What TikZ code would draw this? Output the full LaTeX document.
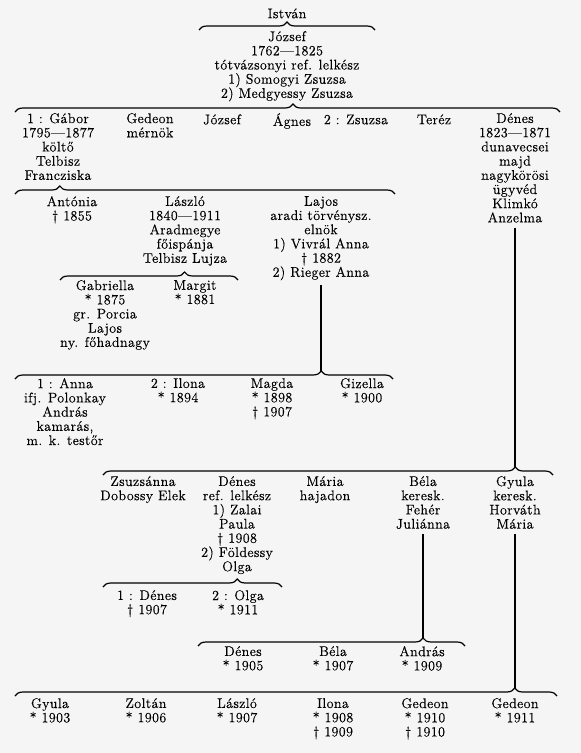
\documentclass[tikz,border=0pt]{standalone}
\usepackage{fontspec}
\setmainfont{Latin Modern Roman}[LetterSpace=3, FakeBold=0.4]
\usepackage{tikz}
\usepackage{xcolor}
\usetikzlibrary{decorations.pathreplacing}
\definecolor{paper}{RGB}{245,245,245}
\newcommand{\famfont}{\fontsize{14}{14.2}\selectfont}
\tikzset{
  person/.style = {
    align=center,
    anchor=north,
    inner sep=0pt,
    font=\famfont,
    execute at begin node={\rule{0pt}{11pt}}
  },
  sibs/.style = {
    decorate,
    decoration={brace, amplitude=8pt, aspect=#1},
    line width=1.2pt
  },
  sibs/.default = 0.5,
  stem/.style = {
    line width=1.5pt,
    shorten <=5pt
  }
}

\begin{document}
\begin{tikzpicture}[x=1pt, y=-1pt]
    \fill[paper] (0,0) rectangle (581,753);
    \useasboundingbox (0,0) rectangle (581,753);
    % top
    \node[person] (istvan) at (287,7) {István};
    \coordinate (istvanL) at (199,30);
    \coordinate (istvanR) at (375,30);
    \draw[sibs] (istvanL) -- (istvanR);
    \node[person] (jozsef) at (287,31) {József\\1762---1825\\tótvázsonyi ref. lelkész\\1) Somogyi Zsuzsa\\2) Medgyessy Zsuzsa};
    \coordinate (jozsefL) at (15,112);
    \coordinate (jozsefR) at (560,112);
    \draw[sibs=0.51] (jozsefL) -- (jozsefR);
    % children of József
    \node[person] (gabor) at (58,113) {1 : Gábor\\1795---1877\\költő\\Telbisz\\Francziska};
    \node[person] (gedeon) at (150,113) {Gedeon\\mérnök};
    \node[person] (jozsefii) at (222,113) {József};
    \node[person] (agnes) at (292,113) {Ágnes};
    \node[person] (zsuzsa) at (356,113) {2 : Zsuzsa};
    \node[person] (terez) at (434,113) {Teréz};
    \node[person] (denes) at (515,113) {Dénes\\1823---1871\\dunavecsei\\majd\\nagykörösi\\ügyvéd\\Klimkó\\Anzelma};
    \coordinate (gaborL) at (15,194);
    \coordinate (gaborR) at (395,194);
    \draw[sibs=0.118] (gaborL) -- (gaborR);
    % children of Gábor
    \node[person] (antonia) at (72,196) {Antónia\\\dag\ 1855};
    \node[person] (laszlo) at (185,196) {László\\1840---1911\\Aradmegye\\főispánja\\Telbisz Lujza};
    \node[person] (lajos) at (321,196) {Lajos\\aradi törvénysz.\\elnök\\1) Vivrál Anna\\\dag\ 1882\\2) Rieger Anna};
    \coordinate (laszloL) at (60,280);
    \coordinate (laszloR) at (238,280);
    \draw[sibs=0.70] (laszloL) -- (laszloR);
    \node[person] (gabriella) at (105,280) {Gabriella\\* 1875\\gr. Porcia\\Lajos\\ny. főhadnagy};
    \node[person] (margit) at (195,280) {Margit\\* 1881};
    % children of Lajos
    \coordinate (lajosL) at (15,379);
    \coordinate (lajosR) at (393,379);
    \coordinate (lajosTip) at (321,371);
    \draw[sibs=0.81] (lajosL) -- (lajosR);
    \draw[stem] (lajos.south) -- (lajosTip);
    \node[person] (anna) at (65,378) {1 : Anna\\ifj. Polonkay\\András\\kamarás,\\m. k. testőr};
    \node[person] (ilona) at (178,378) {2 : Ilona\\* 1894};
    \node[person] (magda) at (272,378) {Magda\\* 1898\\\dag\ 1907};
    \node[person] (gizella) at (362,378) {Gizella\\* 1900};
    % children of Dénes
    \coordinate (denesL) at (103,475);
    \coordinate (denesR) at (553,475);
    \coordinate (denesTip) at (515,467);
    \draw[sibs=0.916] (denesL) -- (denesR);
    \draw[stem] (denes.south) -- (denesTip);
    \node[person] (zsuzsanna) at (143,476) {Zsuzsánna\\Dobossy Elek};
    \node[person] (denesii) at (237,476) {Dénes\\ref. lelkész\\1) Zalai\\Paula\\\dag\ 1908\\2) Földessy\\Olga};
    \node[person] (maria) at (325,476) {Mária\\hajadon};
    \node[person] (bela) at (423,476) {Béla\\keresk.\\Fehér\\Juliánna};
    \node[person] (gyula) at (515,476) {Gyula\\keresk.\\Horváth\\Mária};
    % grandchildren
    \coordinate (denesiiL) at (103,587);
    \coordinate (denesiiR) at (282,587);
    \draw[sibs=0.75] (denesiiL) -- (denesiiR);
    \node[person] (denesiii) at (147,590) {1 : Dénes\\\dag\ 1907};
    \node[person] (olga) at (238,590) {2 : Olga\\* 1911};
    \coordinate (belaL) at (198,646);
    \coordinate (belaR) at (465,646);
    \coordinate (belaTip) at (423,638);
    \draw[sibs=0.843] (belaL) -- (belaR);
    \draw[stem] (bela.south) -- (belaTip);
    \node[person] (denesiv) at (243,646) {Dénes\\* 1905};
    \node[person] (belaii) at (333,646) {Béla\\* 1907};
    \node[person] (andras) at (422,646) {András\\* 1909};
    \coordinate (gyulaL) at (15,696);
    \coordinate (gyulaR) at (557,696);
    \coordinate (gyulaTip) at (515,688);
    \draw[sibs=0.922] (gyulaL) -- (gyulaR);
    \draw[stem] (gyula.south) -- (gyulaTip);
    \node[person] (gyulaii) at (50,698) {Gyula\\* 1903};
    \node[person] (zoltan) at (146,698) {Zoltán\\* 1906};
    \node[person] (laszloii) at (237,698) {László\\* 1907};
    \node[person] (ilonaii) at (333,698) {Ilona\\* 1908\\\dag\ 1909};
    \node[person] (gedeonii) at (425,698) {Gedeon\\* 1910\\\dag\ 1910};
    \node[person] (gedeoniii) at (515,698) {Gedeon\\* 1911};
  \end{tikzpicture}
\end{document}
